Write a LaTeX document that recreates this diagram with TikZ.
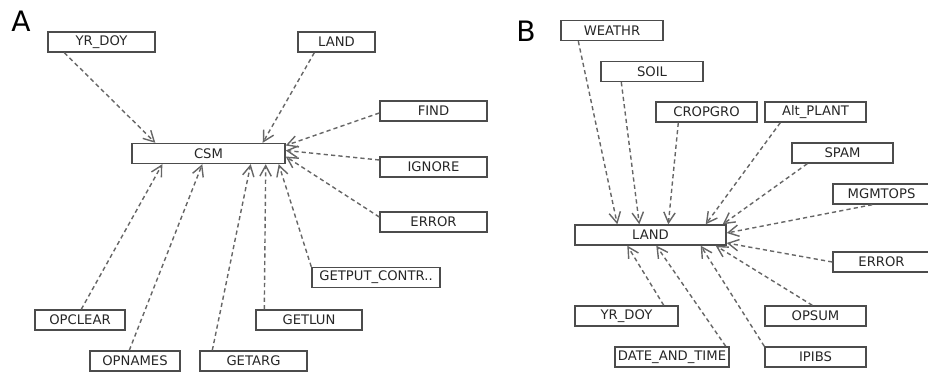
\documentclass[tikz,border=0pt]{standalone}
\usepackage{fontspec}
\newfontfamily\boxfont{DejaVu Sans}
\usetikzlibrary{arrows.meta}

\begin{document}
\begin{tikzpicture}[x=0.02cm, y=-0.02cm,
    every node/.style={font=\boxfont\fontsize{7.5}{9}\selectfont},
    modbox/.style={draw=black!70, line width=0.8pt, minimum height=0.4cm, inner sep=1pt, text=black!85},
    panel/.style={font=\boxfont\fontsize{16}{18}\selectfont},
    calls/.style={draw=black!60, line width=0.8pt, dash pattern=on 2.4pt off 1.8pt,
                  -{Straight Barb[length=6pt,width=6.5pt]}}]
  \useasboundingbox (0,0) rectangle (928,374);

  % Teil A
  \node[panel] (lblA) at (21,21) {A};
  \node[modbox, minimum width=153*0.02cm] (csm) at (208.5,153.5) {CSM};
  \node[modbox, minimum width=107*0.02cm] (yrdoyA) at (101.5,42) {YR\_DOY};
  \node[modbox, minimum width=77*0.02cm] (landA) at (336.5,42) {LAND};
  \node[modbox, minimum width=107*0.02cm] (findA) at (433.5,111) {FIND};
  \node[modbox, minimum width=107*0.02cm] (ignoreA) at (433.5,167) {IGNORE};
  \node[modbox, minimum width=107*0.02cm] (errorA) at (433.5,222) {ERROR};
  \node[modbox, minimum width=128*0.02cm] (getput) at (376,277.5) {GETPUT\_CONTR..};
  \node[modbox, minimum width=90*0.02cm] (opclear) at (80,320) {OPCLEAR};
  \node[modbox, minimum width=106*0.02cm] (getlun) at (309,320) {GETLUN};
  \node[modbox, minimum width=90*0.02cm] (opnames) at (135,361) {OPNAMES};
  \node[modbox, minimum width=107*0.02cm] (getarg) at (253.5,361) {GETARG};

  % Aufrufe nach CSM
  \draw[calls] ([shift={(17,0)}]yrdoyA.south west) -- ([shift={(24,0)}]csm.north west);
  \draw[calls] ([shift={(17,0)}]landA.south west) -- ([shift={(-23,0)}]csm.north east);
  \draw[calls] ([shift={(0,2)}]findA.west) -- ([shift={(0,-8)}]csm.east);
  \draw[calls] ([shift={(0,-7)}]ignoreA.west) -- ([shift={(0,-3)}]csm.east);
  \draw[calls] ([shift={(0,-5)}]errorA.west) -- ([shift={(0,3)}]csm.east);
  \draw[calls] (getput.north west) -- ([shift={(-7,0)}]csm.south east);
  \draw[calls] ([shift={(9,0)}]getlun.north west) -- ([shift={(-20,0)}]csm.south east);
  \draw[calls] ([shift={(13,0)}]getarg.north west) -- ([shift={(-35,0)}]csm.south east);
  \draw[calls] ([shift={(40,0)}]opnames.north west) -- ([shift={(71,0)}]csm.south west);
  \draw[calls] ([shift={(47,0)}]opclear.north west) -- ([shift={(31,0)}]csm.south west);

  % Teil B
  \node[panel] (lblB) at (526,31) {B};
  \node[modbox, minimum width=151*0.02cm] (landB) at (650.5,235) {LAND};
  \node[modbox, minimum width=102*0.02cm] (weathr) at (612,30.5) {WEATHR};
  \node[modbox, minimum width=102*0.02cm] (soil) at (652,71.5) {SOIL};
  \node[modbox, minimum width=101*0.02cm] (cropgro) at (706.5,112) {CROPGRO};
  \node[modbox, minimum width=101*0.02cm] (altplant) at (815.5,112) {Alt\_PLANT};
  \node[modbox, minimum width=101*0.02cm] (spam) at (842.5,153) {SPAM};
  \node[modbox, minimum width=97*0.02cm] (mgmtops) at (881.5,194) {MGMTOPS};
  \node[modbox, minimum width=97*0.02cm] (errorB) at (881.5,262) {ERROR};
  \node[modbox, minimum width=103*0.02cm] (yrdoyB) at (626.5,316) {YR\_DOY};
  \node[modbox, minimum width=101*0.02cm] (opsum) at (815.5,316) {OPSUM};
  \node[modbox, minimum width=114*0.02cm, inner xsep=0pt] (datetime) at (672,357) {DATE\_AND\_TIME};
  \node[modbox, minimum width=101*0.02cm] (ipibs) at (815.5,357) {IPIBS};

  % Aufrufe nach LAND
  \draw[calls] ([shift={(18,0)}]weathr.south west) -- ([shift={(43,0)}]landB.north west);
  \draw[calls] ([shift={(21,0)}]soil.south west) -- ([shift={(65,0)}]landB.north west);
  \draw[calls] ([shift={(23,0)}]cropgro.south west) -- ([shift={(94,0)}]landB.north west);
  \draw[calls] ([shift={(16,0)}]altplant.south west) -- ([shift={(-21,0)}]landB.north east);
  \draw[calls] ([shift={(16,0)}]spam.south west) -- ([shift={(-4,0)}]landB.north east);
  \draw[calls] ([shift={(40,0)}]mgmtops.south west) -- ([shift={(0,-2)}]landB.east);
  \draw[calls] (errorB.west) -- ([shift={(0,8)}]landB.east);
  \draw[calls] ([shift={(48,0)}]opsum.north west) -- ([shift={(-11,0)}]landB.south east);
  \draw[calls] (ipibs.north west) -- ([shift={(-26,0)}]landB.south east);
  \draw[calls] ([shift={(-4,0)}]datetime.north east) -- ([shift={(82,0)}]landB.south west);
  \draw[calls] ([shift={(-15,0)}]yrdoyB.north east) -- ([shift={(53,0)}]landB.south west);
\end{tikzpicture}
\end{document}
